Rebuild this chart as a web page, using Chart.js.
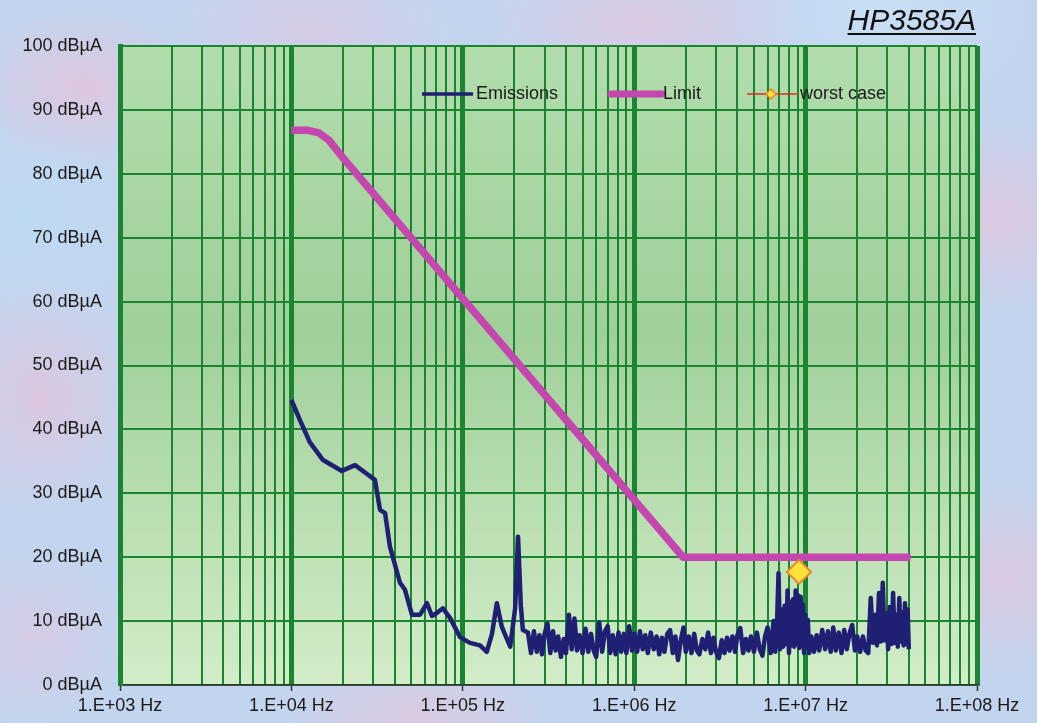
<!DOCTYPE html>
<html>
<head>
<meta charset="utf-8">
<script src="https://cdn.jsdelivr.net/npm/chart.js@4.4.1/dist/chart.umd.min.js"></script>
<style>
  html,body{margin:0;padding:0;width:1037px;height:723px;overflow:hidden}
  body{
    background-color:#c3d5ee;
    background-image:
      radial-gradient(ellipse 120px 80px at 8% 12%, rgba(226,196,220,.85), transparent),
      radial-gradient(ellipse 140px 90px at 30% 4%, rgba(222,200,226,.7), transparent),
      radial-gradient(ellipse 160px 70px at 62% 3%, rgba(228,198,222,.75), transparent),
      radial-gradient(ellipse 120px 100px at 96% 30%, rgba(226,196,222,.8), transparent),
      radial-gradient(ellipse 110px 120px at 4% 55%, rgba(224,196,220,.8), transparent),
      radial-gradient(ellipse 100px 90px at 3% 88%, rgba(220,200,226,.7), transparent),
      radial-gradient(ellipse 140px 60px at 40% 99%, rgba(226,198,220,.75), transparent),
      radial-gradient(ellipse 120px 100px at 97% 80%, rgba(226,198,222,.75), transparent),
      radial-gradient(ellipse 150px 100px at 85% 2%, rgba(200,224,246,.9), transparent),
      radial-gradient(ellipse 130px 110px at 2% 30%, rgba(190,218,244,.9), transparent);
  }
  #wrap{position:absolute;left:0;top:0;width:1037px;height:723px}
  #title{position:absolute;right:61px;top:5px;font:italic 30px "Liberation Sans",Arial,sans-serif;
         line-height:30px;color:#111;text-decoration:underline;text-underline-offset:3px;text-decoration-thickness:2px}
</style>
</head>
<body>
<div id="wrap">
  <canvas id="c" width="1037" height="723"></canvas>
  <div id="title">HP3585A</div>
</div>
<script>
// decade labels on the frequency axis
const decadeLabels = ['1.E+03 Hz','1.E+04 Hz','1.E+05 Hz','1.E+06 Hz','1.E+07 Hz','1.E+08 Hz'];

const emFreq = [
  // 10 kHz .. 224 kHz
  1.0e4,1.12e4,1.28e4,1.53e4,1.97e4,2.35e4,2.80e4,3.07e4,3.29e4,3.52e4,
  3.76e4,4.30e4,4.60e4,5.05e4,5.63e4,6.18e4,6.61e4,7.07e4,7.66e4,8.42e4,
  9.63e4,1.10e5,1.26e5,1.38e5,1.48e5,1.58e5,1.69e5,1.89e5,2.02e5,2.10e5,
  2.18e5,2.24e5,
  // 240 kHz .. 1 MHz
  2.40e5,2.50e5,2.60e5,2.70e5,2.80e5,2.90e5,3.00e5,3.12e5,3.24e5,3.36e5,
  3.48e5,3.60e5,3.74e5,3.88e5,4.00e5,4.16e5,4.32e5,4.48e5,4.64e5,4.80e5,
  5.00e5,5.20e5,5.40e5,5.60e5,5.80e5,6.00e5,6.25e5,6.50e5,6.75e5,7.00e5,
  7.25e5,7.50e5,7.80e5,8.10e5,8.40e5,8.70e5,9.00e5,9.35e5,9.70e5,
  // 1 MHz .. 6.25 MHz
  1.00e6,1.04e6,1.08e6,1.12e6,1.16e6,1.20e6,1.25e6,1.30e6,1.35e6,1.40e6,
  1.45e6,1.50e6,1.56e6,1.62e6,1.68e6,1.74e6,1.80e6,1.87e6,1.94e6,2.00e6,
  2.08e6,2.16e6,2.24e6,2.32e6,2.40e6,2.50e6,2.60e6,2.70e6,2.80e6,2.90e6,
  3.00e6,3.12e6,3.24e6,3.36e6,3.48e6,3.60e6,3.74e6,3.88e6,4.00e6,4.16e6,
  4.32e6,4.48e6,4.64e6,4.80e6,5.00e6,5.20e6,5.40e6,5.60e6,5.80e6,6.00e6,
  6.25e6,
  // burst around 7..10 MHz
  6.50e6,6.65e6,6.80e6,6.95e6,7.10e6,7.25e6,7.40e6,7.55e6,7.70e6,7.85e6,
  8.00e6,8.15e6,8.30e6,8.45e6,8.60e6,8.75e6,8.90e6,9.05e6,9.20e6,9.35e6,
  9.50e6,9.65e6,9.80e6,9.95e6,
  // 10 MHz .. 22 MHz
  1.01e7,1.03e7,1.05e7,1.08e7,1.12e7,1.16e7,1.20e7,1.25e7,1.30e7,1.35e7,
  1.40e7,1.45e7,1.50e7,1.56e7,1.62e7,1.68e7,1.74e7,1.80e7,1.87e7,1.94e7,
  2.00e7,2.08e7,2.16e7,2.24e7,
  // burst 23..40 MHz
  2.32e7,2.40e7,2.47e7,2.54e7,2.61e7,2.68e7,2.75e7,2.82e7,2.89e7,2.96e7,
  3.03e7,3.10e7,3.17e7,3.24e7,3.31e7,3.38e7,3.45e7,3.52e7,3.59e7,3.66e7,
  3.73e7,3.80e7,3.87e7,3.94e7,4.00e7
];
const emDb = [
  44.6,41.5,38.0,35.2,33.5,34.4,32.9,32.1,27.4,26.9,
  21.6,16.0,14.9,11.0,11.0,12.8,10.8,11.3,12.0,10.5,
  7.5,6.6,6.2,5.2,8.0,12.8,9.1,6.0,12.0,23.2,
  12.5,8.6,
  8.2,5.0,8.4,5.2,7.8,4.8,8.0,9.6,5.0,8.4,
  5.4,7.6,4.4,7.2,5.0,11.0,5.6,10.4,5.4,7.8,
  5.0,8.8,5.2,8.0,5.4,4.4,9.8,5.2,8.4,9.2,
  5.0,7.8,4.8,8.2,5.2,8.0,5.0,9.2,5.4,
  8.0,5.2,8.4,5.6,7.8,5.0,8.2,5.6,7.6,4.8,
  7.4,5.2,8.0,8.6,5.0,7.6,3.9,7.0,9.0,5.2,
  7.6,5.0,8.0,5.4,4.8,7.2,5.6,8.2,5.0,7.4,
  5.2,4.2,7.0,5.0,7.4,5.4,7.6,5.2,7.8,8.9,
  5.0,7.2,5.4,7.6,5.2,8.2,5.6,4.6,7.6,9.0,
  5.0,
  10.0,5.2,9.0,17.5,5.6,11.8,6.0,12.4,6.4,14.8,
  5.0,13.0,6.2,13.4,6.0,14.8,6.4,14.0,5.8,13.8,
  6.2,12.6,5.0,11.0,
  6.0,10.2,5.0,7.6,5.2,7.8,5.4,8.6,5.6,8.4,
  5.2,9.0,5.4,8.2,5.0,8.6,5.6,8.0,9.4,5.4,
  7.6,5.2,7.6,5.4,
  5.0,13.6,6.6,11.0,6.2,14.4,6.8,16.0,7.0,11.2,
  5.6,12.2,6.4,14.4,6.6,11.0,6.0,13.6,6.8,11.4,
  6.2,12.8,6.4,11.8,5.6
];

// limit line
const limFreq = [1.0e4,1.25e4,1.45e4,1.65e4,2.0e4,1.93e6,4.1e7];
const limDb   = [86.8,86.8,86.4,85.3,82.5,20.0,20.0];

// worst case marker
const worstFreq = [9.15e6];
const worstDb   = [17.7];

const FONT = '"Liberation Sans", Arial, sans-serif';
const GRID = '#1a8530';

const toXY = (xs, ys) => xs.map((x, i) => ({x: x, y: ys[i]}));
const isDecade = v => Math.abs(Math.log10(v) - Math.round(Math.log10(v))) < 1e-9;

const plotBg = {
  id: 'plotBg',
  beforeDraw(chart) {
    const {ctx, chartArea: a} = chart;
    const g = ctx.createLinearGradient(0, a.top, 0, a.bottom);
    g.addColorStop(0, '#b2dcac');
    g.addColorStop(0.45, '#a0d09a');
    g.addColorStop(1, '#d2ecc8');
    ctx.save();
    ctx.fillStyle = g;
    ctx.fillRect(a.left, a.top, a.right - a.left, a.bottom - a.top);
    ctx.restore();
  }
};

const legendPlugin = {
  id: 'myLegend',
  afterDraw(chart) {
    const {ctx, chartArea: a} = chart;
    const y = a.top + 48;
    ctx.save();
    ctx.font = '18px ' + FONT;
    ctx.fillStyle = '#1a1a1a';
    ctx.textBaseline = 'middle';
    // Emissions
    let x = a.left + 302;
    ctx.strokeStyle = '#1f1f73'; ctx.lineWidth = 3.5;
    ctx.beginPath(); ctx.moveTo(x, y); ctx.lineTo(x + 51, y); ctx.stroke();
    ctx.fillText('Emissions', x + 54, y);
    // Limit
    x = a.left + 488;
    ctx.strokeStyle = '#c446ae'; ctx.lineWidth = 7; ctx.lineCap = 'round';
    ctx.beginPath(); ctx.moveTo(x + 3, y); ctx.lineTo(x + 54, y); ctx.stroke();
    ctx.lineCap = 'butt';
    ctx.fillText('Limit', x + 55, y);
    // worst case
    x = a.left + 627;
    ctx.strokeStyle = '#d8301e'; ctx.lineWidth = 1.5;
    ctx.beginPath(); ctx.moveTo(x, y); ctx.lineTo(x + 51, y); ctx.stroke();
    ctx.fillStyle = '#ffe23a'; ctx.strokeStyle = '#e8862a'; ctx.lineWidth = 1.5;
    ctx.beginPath();
    ctx.moveTo(x + 24, y - 5); ctx.lineTo(x + 29, y); ctx.lineTo(x + 24, y + 5); ctx.lineTo(x + 19, y);
    ctx.closePath(); ctx.fill(); ctx.stroke();
    ctx.fillStyle = '#1a1a1a';
    ctx.fillText('worst case', x + 53, y);
    ctx.restore();
  }
};

new Chart(document.getElementById('c'), {
  type: 'line',
  data: {
    datasets: [
      {label: 'worst case', data: toXY(worstFreq, worstDb), showLine: false,
       pointStyle: 'rectRot', pointRadius: 12, pointBackgroundColor: '#ffe23a',
       pointBorderColor: '#e8862a', pointBorderWidth: 2, order: 0},
      {label: 'Emissions', data: toXY(emFreq, emDb), borderColor: '#1f1f73',
       borderWidth: 4.5, pointRadius: 0, tension: 0, borderJoinStyle: 'round', order: 1},
      {label: 'Limit', data: toXY(limFreq, limDb), borderColor: '#c446ae',
       borderWidth: 7.5, pointRadius: 0, tension: 0, borderJoinStyle: 'round', order: 2}
    ]
  },
  options: {
    responsive: false,
    animation: false,
    layout: {padding: {left: 0, right: 60, top: 46, bottom: 0}},
    plugins: {legend: {display: false}, tooltip: {enabled: false}, title: {display: false}},
    scales: {
      x: {
        type: 'logarithmic', min: 1e3, max: 1e8,
        afterBuildTicks(scale) {
          const t = [];
          for (let e = 3; e < 8; e++) for (let m = 1; m < 10; m++) t.push({value: m * Math.pow(10, e)});
          t.push({value: 1e8});
          scale.ticks = t;
        },
        afterFit(scale) { scale.height = 38; },
        ticks: {
          autoSkip: false, maxRotation: 0, padding: 4, color: '#1a1a1a',
          font: {family: FONT, size: 18},
          callback: (v) => isDecade(v) ? decadeLabels[Math.round(Math.log10(v)) - 3] : ''
        },
        grid: {
          color: GRID,
          lineWidth: c => isDecade(c.tick.value) ? 5 : 2,
          drawTicks: true, tickLength: 6, tickWidth: 1.5,
          tickColor: c => isDecade(c.tick.value) ? '#333' : 'rgba(0,0,0,0)'
        },
        border: {color: '#333', width: 1.5}
      },
      y: {
        min: 0, max: 100,
        afterFit(scale) { scale.width = 120; },
        ticks: {
          stepSize: 10, padding: 18, color: '#1a1a1a',
          font: {family: FONT, size: 18},
          callback: v => v + ' dB\u00b5A'
        },
        grid: {color: GRID, lineWidth: 2, drawTicks: false},
        border: {color: GRID, width: 5}
      }
    }
  },
  plugins: [plotBg, legendPlugin]
});
</script>
</body>
</html>
